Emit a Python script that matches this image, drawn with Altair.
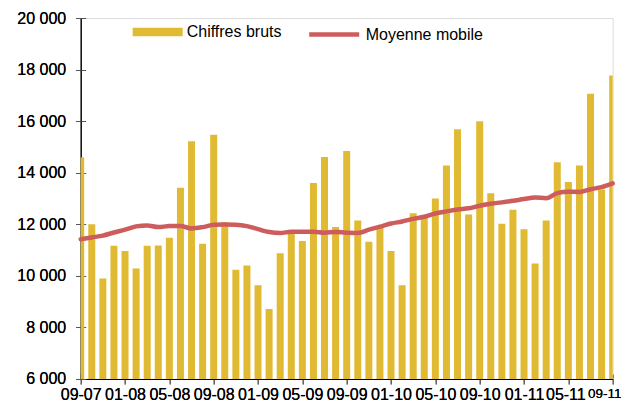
import json
import altair as alt
import pandas as pd

tick_labels = ["09-07", "01-08", "05-08", "09-08", "01-09", "05-09", "09-09",
               "01-10", "05-10", "09-10", "01-11", "05-11", "09-11"]

chiffres_bruts = [14600, 12000, 9900, 11170, 10960, 10290, 11170, 11180, 11480, 13420,
                  15225, 11245, 15470, 12080, 10240, 10400, 9640, 8710, 10880, 11670,
                  11350, 13600, 14605, 11890, 14840, 12150, 11320, 11900, 10960, 9640,
                  12430, 12320, 13000, 14280, 15690, 12380, 16000, 13200, 12020, 12560,
                  11810, 10480, 12150, 14410, 13640, 14280, 17060, 13350, 17770]

moyenne_mobile = [11420, 11490, 11560, 11680, 11790, 11920, 11955, 11890, 11930, 11930,
                  11840, 11890, 11980, 11995, 11985, 11930, 11810, 11700, 11660, 11710,
                  11710, 11710, 11670, 11705, 11670, 11665, 11790, 11910, 12030, 12110,
                  12210, 12290, 12420, 12500, 12575, 12620, 12720, 12800, 12850, 12910,
                  12980, 13040, 13010, 13210, 13260, 13255, 13360, 13440, 13585]

GOLD = "#E1BA34"
RED = "#CD5C5C"
FONT = "Liberation Sans"

df = pd.DataFrame({
    "i": list(range(len(chiffres_bruts))),
    "brut": chiffres_bruts,
    "moy": moyenne_mobile,
})

xvals = list(range(0, 49, 4))
yvals = list(range(6000, 20001, 2000))
xscale = alt.Scale(domain=[0, 48], nice=False, zero=False, padding=0)
yscale = alt.Scale(domain=[6000, 20000], nice=False, zero=False, padding=0)
label_expr_x = json.dumps(tick_labels) + "[round(datum.value / 4)]"
label_expr_y = "replace(format(datum.value, ',d'), ',', ' ')"

x_axis = alt.Axis(values=xvals, labelExpr=label_expr_x, tickSize=5, labelPadding=3,
                  domainColor="black", tickColor="#555", labelFont=FONT,
                  labelFontSize={"condition": {"test": "datum.value == 48", "value": 13.5},
                                 "value": 16},
                  labelAlign={"condition": {"test": "datum.value == 48", "value": "right"},
                              "value": "center"},
                  labelOffset={"condition": [{"test": "datum.value == 48", "value": 8.3},
                                             {"test": "datum.value == 44", "value": -3}],
                               "value": 0},
                  labelColor="black", grid=False, title=None,
                  labelFlush=False, labelOverlap=False, orient="bottom")
y_axis = alt.Axis(values=yvals, labelExpr=label_expr_y, tickSize=5, labelPadding=10,
                  domainColor="black", tickColor="#555", labelFont=FONT,
                  labelFontSize=16, labelColor="black", grid=False, title=None,
                  orient="left")

base = alt.Chart(df)

bars = base.transform_calculate(serie="'Chiffres bruts'").mark_bar(size=7, clip=True).encode(
    x=alt.X("i:Q", scale=xscale, axis=x_axis),
    y=alt.Y("brut:Q", scale=yscale, axis=y_axis),
    color=alt.Color("serie:N",
                    scale=alt.Scale(domain=["Chiffres bruts"], range=[GOLD]),
                    legend=alt.Legend(title=None, orient="none", legendX=52, legendY=-11,
                                      symbolType="M-1,-0.17L1,-0.17L1,0.17L-1,0.17Z",
                                      symbolSize=2500, symbolStrokeWidth=0,
                                      symbolOpacity=1, labelFont=FONT, labelFontSize=16,
                                      labelColor="black", labelOffset=4)),
)

line = base.transform_calculate(serie2="'Moyenne mobile'").mark_line(
    strokeWidth=4.5, interpolate="monotone", strokeCap="round", strokeJoin="round"
).encode(
    x=alt.X("i:Q", scale=xscale, axis=x_axis),
    y=alt.Y("moy:Q", scale=yscale, axis=y_axis),
    stroke=alt.Stroke("serie2:N",
                      scale=alt.Scale(domain=["Moyenne mobile"], range=[RED]),
                      legend=alt.Legend(title=None, orient="none", legendX=226, legendY=-11,
                                        symbolType="stroke", symbolSize=2500,
                                        symbolStrokeWidth=4.5, labelFont=FONT,
                                        labelFontSize=16, labelColor="black",
                                        labelOffset=4)),
)

cross = base.mark_point(opacity=0).encode(
    x=alt.X("i:Q", scale=xscale,
            axis=alt.Axis(orient="bottom", offset=-5, values=xvals, tickSize=4,
                          labels=False, domain=False, tickColor="#555", grid=False,
                          title=None)),
    y=alt.Y("brut:Q", scale=yscale,
            axis=alt.Axis(orient="left", offset=-5, values=yvals, tickSize=5,
                          labels=False, domain=False, tickColor="#555", grid=False,
                          title=None)),
)

chart = alt.layer(bars, line, cross).resolve_axis(
    x="independent", y="independent"
).resolve_scale(color="independent", stroke="independent").properties(
    width=532, height=361,
    padding={"left": 72.7, "top": 10, "right": 8, "bottom": 24},
    autosize=alt.AutoSizeParams(type="none"),
).configure_view(stroke=None).configure(background="white")

chart.save("out.html", embed_options={"renderer": "svg", "actions": False})
